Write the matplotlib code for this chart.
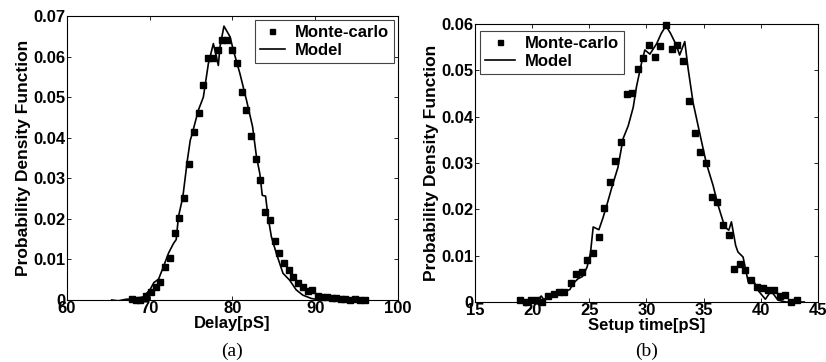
import matplotlib
matplotlib.use("Agg")
import matplotlib.pyplot as plt

# ---- Panel (a): Delay ----
mc_a_x = [67.8, 68.4, 68.8, 69.5, 70.1, 70.7, 71.3, 71.8, 72.4, 73.0, 73.5, 74.1, 74.7, 75.3,
          75.9, 76.4, 77.0, 77.6, 78.2, 78.7, 79.3, 79.9, 80.5, 81.1, 81.6, 82.2, 82.8, 83.3,
          83.9, 84.5, 85.1, 85.6, 86.2, 86.8, 87.3, 87.9, 88.5, 89.1, 89.6, 90.3, 90.8, 91.4,
          92.0, 92.5, 93.1, 93.6, 94.2, 94.8, 95.4, 96.0]
mc_a_y = [0.0002, 0.0, 0.0001, 0.0011, 0.0019, 0.0031, 0.0045, 0.0082, 0.0104, 0.0164, 0.0201,
          0.0251, 0.0335, 0.0413, 0.0460, 0.0530, 0.0597, 0.0597, 0.0617, 0.0640, 0.0642, 0.0617,
          0.0583, 0.0513, 0.0468, 0.0404, 0.0347, 0.0295, 0.0217, 0.0197, 0.0146, 0.0117, 0.0090,
          0.0074, 0.0056, 0.0043, 0.0033, 0.0021, 0.0025, 0.0010, 0.0008, 0.0008, 0.0005, 0.0004,
          0.0003, 0.0002, 0.0001, 0.0003, 0.0001, 0.0001]
model_a_x = [65.4, 66.2, 67.2, 68.0, 69.25, 70.05, 70.5, 71.06, 71.66, 72.26, 72.86, 73.2, 73.47,
             74.0, 74.55, 74.9, 75.08, 75.88, 76.48, 77.09, 77.69, 78.29, 78.49, 78.97, 79.7,
             80.1, 80.9, 81.7, 82.43, 82.9, 83.3, 83.6, 84.0, 84.3, 84.7, 85.3, 86.1, 86.9,
             87.7, 88.5, 89.5, 90.5, 92.0, 94.0, 96.0]
model_a_y = [0.0, -0.0002, 0.0002, 0.0002, 0.0008, 0.0026, 0.0043, 0.0051, 0.0082, 0.0115, 0.0139,
             0.0149, 0.0205, 0.0254, 0.0345, 0.0394, 0.0406, 0.0468, 0.0500, 0.0583, 0.0632,
             0.0578, 0.0624, 0.0675, 0.0649, 0.0616, 0.0558, 0.0492, 0.0427, 0.0353, 0.0312,
             0.0258, 0.0256, 0.0205, 0.0156, 0.0115, 0.0066, 0.0049, 0.0025, 0.0012, 0.0004,
             0.0, 0.0, 0.0, 0.0]

# ---- Panel (b): Setup time ----
mc_b_x = [18.93, 19.43, 19.86, 20.39, 20.88, 21.38, 21.87, 22.34, 22.8, 23.42, 23.86, 24.32,
          24.82, 25.34, 25.81, 26.3, 26.8, 27.29, 27.79, 28.28, 28.75, 29.24, 29.74, 30.23,
          30.73, 31.22, 31.72, 32.2, 32.71, 33.23, 33.7, 34.22, 34.72, 35.19, 35.71, 36.18,
          36.7, 37.2, 37.69, 38.22, 38.65, 39.18, 39.67, 40.2, 40.66, 41.16, 41.65, 42.15,
          42.64, 43.14]
mc_b_y = [0.0004, 0.0, 0.0004, 0.0005, 0.0001, 0.0013, 0.0018, 0.0021, 0.0021, 0.0042, 0.0060,
          0.0065, 0.0090, 0.0106, 0.0140, 0.0202, 0.0259, 0.0305, 0.0346, 0.0450, 0.0452, 0.0503,
          0.0527, 0.0555, 0.0529, 0.0552, 0.0597, 0.0547, 0.0555, 0.0521, 0.0434, 0.0364, 0.0324,
          0.0299, 0.0227, 0.0215, 0.0166, 0.0144, 0.0071, 0.0083, 0.0070, 0.0047, 0.0032, 0.0031,
          0.0027, 0.0025, 0.0013, 0.0016, 0.0, 0.0004]
model_b_x = [18.9, 19.5, 20.0, 20.5, 20.8, 21.0, 21.5, 22.0, 22.5, 23.0, 23.3, 23.6, 24.0, 24.4,
             24.8, 25.1, 25.34, 25.84, 26.2, 26.6, 27.0, 27.5, 27.96, 28.4, 28.84, 29.13, 29.56,
             29.86, 30.3, 30.9, 31.3, 31.7, 32.1, 32.6, 32.9, 33.35, 33.64, 34.08, 34.66, 35.24,
             35.82, 36.26, 36.85, 37.2, 37.43, 37.8, 38.0, 38.45, 38.9, 39.47, 39.76, 40.4,
             40.9, 41.5, 42.2, 43.8]
model_b_y = [0.0, 0.0001, 0.0003, 0.0005, 0.0013, 0.0006, 0.0010, 0.0016, 0.0020, 0.0024, 0.0027,
             0.0040, 0.0050, 0.0055, 0.0075, 0.0105, 0.0162, 0.0156, 0.0182, 0.0215, 0.0250,
             0.0290, 0.0353, 0.0380, 0.0420, 0.0465, 0.0515, 0.0544, 0.0535, 0.0558, 0.0580,
             0.0596, 0.0580, 0.0555, 0.0533, 0.0562, 0.0504, 0.0430, 0.0364, 0.0299, 0.0252,
             0.0209, 0.0162, 0.0155, 0.0173, 0.0122, 0.0108, 0.0097, 0.0043, 0.0041, 0.0025,
             0.0006, 0.0024, 0.0004, 0.0, 0.0]

xticks_a = [60, 70, 80, 90, 100]
yticks_a = [0, 0.01, 0.02, 0.03, 0.04, 0.05, 0.06, 0.07]
xticks_b = [15, 20, 25, 30, 35, 40, 45]
yticks_b = [0, 0.01, 0.02, 0.03, 0.04, 0.05, 0.06]

plt.rcParams['font.family'] = ['Liberation Sans', 'DejaVu Sans']

fig = plt.figure(figsize=(8.26, 3.62), dpi=100)
ax1 = fig.add_axes([0.0811, 0.1713, 0.4007, 0.7845])
ax2 = fig.add_axes([0.575, 0.1657, 0.4153, 0.768])

FS = 12


def style(ax, xt, yt, xl, ylbl, caption, loc, bbox, hl):
    ax.set_xlim(xt[0], xt[-1])
    ax.set_ylim(yt[0], yt[-1])
    ax.set_xticks(xt)
    ax.set_yticks(yt)
    ax.set_xticklabels([str(v) for v in xt], fontweight='bold', fontsize=FS)
    ax.set_yticklabels(['0' if v == 0 else f"{v:.2f}" for v in yt], fontweight='bold', fontsize=FS)
    ax.tick_params(axis='x', direction='in', top=True, length=3, width=0.6, pad=0.5)
    ax.tick_params(axis='y', direction='in', right=True, length=3, width=0.6, pad=1)
    for s in ax.spines.values():
        s.set_linewidth(0.8)
    ax.set_xlabel(xl, fontweight='bold', fontsize=FS, labelpad=0)
    ax.set_ylabel(ylbl, fontweight='bold', fontsize=FS + 0.5, labelpad=2)
    leg = ax.legend(loc=loc, bbox_to_anchor=bbox, prop={'weight': 'bold', 'size': FS},
                    fancybox=False, framealpha=1, edgecolor='#444444', borderpad=0.3,
                    handlelength=hl, handletextpad=0.6, labelspacing=0.2, borderaxespad=0,
                    markerscale=0.8)
    leg.get_frame().set_linewidth(0.8)
    bb = ax.get_position()
    fig.text((bb.x0 + bb.x1) / 2, 0.03, caption, ha='center', va='center',
             fontsize=14, family='Liberation Serif')


ax1.plot(mc_a_x, mc_a_y, 's', color='black', markersize=4.5, label='Monte-carlo', clip_on=False)
ax1.plot(model_a_x, model_a_y, '-', color='black', linewidth=1.2, label='Model')
style(ax1, xticks_a, yticks_a, 'Delay[pS]', 'Probability Density Function', '(a)',
      'upper right', (0.988, 0.986), 1.5)

ax2.plot(mc_b_x, mc_b_y, 's', color='black', markersize=4.5, label='Monte-carlo', clip_on=False)
ax2.plot(model_b_x, model_b_y, '-', color='black', linewidth=1.2, label='Model')
style(ax2, xticks_b, yticks_b, 'Setup time[pS]', 'Probability Density Function', '(b)',
      'upper left', (0.015, 0.975), 1.8)

fig.savefig('out.png', dpi=100)
